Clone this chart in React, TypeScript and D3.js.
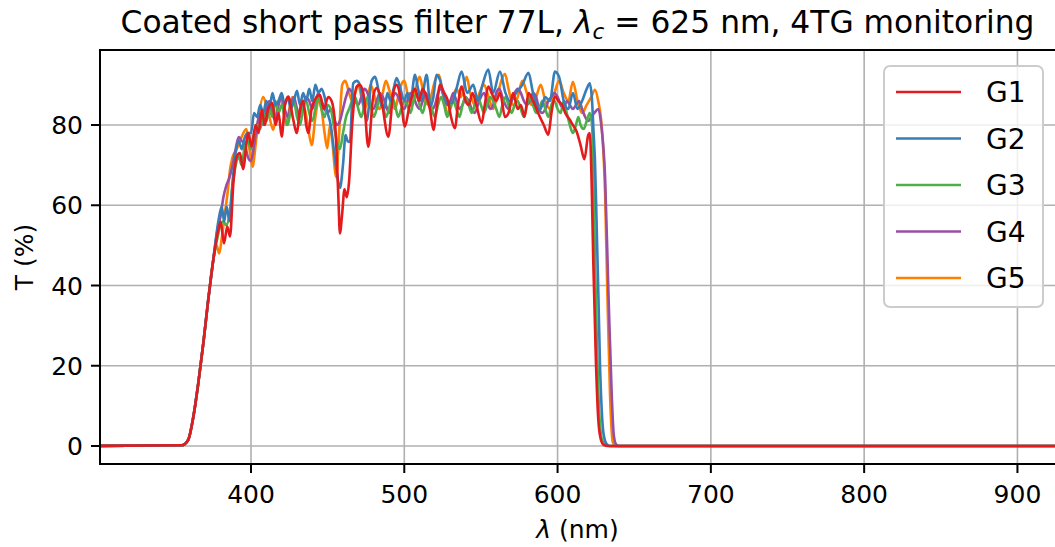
import React from "react";
import * as d3 from "d3";

type Pt = [number, number];

const seriesNames = ["G1", "G2", "G3", "G4", "G5"];
const seriesColors = ["#e41a1c", "#377eb8", "#4daf4a", "#984ea3", "#ff7f00"];
const xTicks = [400, 500, 600, 700, 800, 900];
const yTicks = [0, 20, 40, 60, 80];

const riseEdge: Pt[] = [
  [295, 0], [355, 0.2], [359, 1.5], [362.4, 7.3], [365.6, 15.6], [368.9, 25.6],
  [372.1, 36.4], [375.4, 46.4],
];
const stopTail: Pt[] = [[700, 0], [930, 0]];

const g1: Pt[] = [
  [378.7, 53.9], [380.2, 55.9], [382.4, 50.5], [384.5, 54.7], [386.3, 52.2], [388.5, 65.5], [390.7, 72.1],
  [392.8, 73], [394.8, 69], [398.2, 78], [400.4, 74.6], [403, 80], [405, 78], [407, 83.8], [409, 80],
  [411.3, 84.2], [414, 85.5], [416, 80], [418, 83], [420, 77.1], [422, 84.6], [424.3, 87.1], [427.6, 81.3],
  [429.8, 78], [432, 84], [434, 86], [436, 80], [437.4, 78], [439.5, 84], [441.7, 86.3], [445, 87.5],
  [447.5, 84], [450.4, 87], [452.6, 86], [455, 79.6], [457, 62], [458, 53], [459.5, 58], [461, 64],
  [462.5, 62], [464, 66], [466, 80], [469, 89.6], [471, 90], [473.5, 87.5], [476.5, 74.6], [479.8, 87.3],
  [482, 89.2], [485, 86.3], [489.6, 77.1], [492.8, 88], [495, 90], [497.5, 87], [500.4, 79.6], [503, 84],
  [507, 89], [509.5, 86], [512, 89], [514.5, 87], [516.8, 83.8], [519, 78.8], [521, 84], [523.3, 90],
  [526, 88], [528.5, 86], [530.5, 82], [533, 79.2], [535, 85], [537.4, 89.6], [540, 86], [542, 85],
  [544.5, 88], [547, 85], [550.5, 80.5], [552.5, 85], [554.8, 89.6], [557.5, 87.5], [560, 86], [562.5, 88],
  [565.7, 82], [568, 83], [571, 88], [574, 84], [576, 85], [578.5, 82], [581, 88], [584, 86], [588.5, 82],
  [591, 80], [594, 77.6], [596, 83], [598.3, 87.1], [600.5, 86], [603, 85], [605, 83], [608, 81.3],
  [610, 80], [612.4, 78.4], [615, 75], [617.5, 71.5], [620, 77.5], [621, 78], [622.2, 66], [623.3, 46],
  [625, 21.4], [626.5, 7], [628, 2], [630, 0.3], [633, 0],
];

const g2: Pt[] = [
  [378.7, 56], [380.9, 59.7], [382.5, 56], [384.1, 59.7], [386, 56], [388, 66], [390, 73], [392, 76],
  [394, 74], [396, 77], [398, 78], [400, 78], [402, 83], [404, 82], [406, 85], [408, 83], [410, 86],
  [412, 84], [414, 88], [416, 85], [418, 86], [420, 88], [422, 85], [424, 87], [426, 84], [428, 86],
  [430, 88.5], [432, 85], [434, 88], [436, 86], [438, 89], [440, 86], [442, 90], [444, 88], [446, 89],
  [448, 87], [450, 83], [452, 80], [454, 74], [456, 68], [458, 64.3], [460, 70], [461.7, 77.5], [463, 76],
  [464.5, 75.8], [466.7, 90.4], [469, 91], [471, 90], [473, 86], [475.5, 81], [478.7, 91], [481, 92],
  [483, 89], [485, 85], [487, 84], [489, 88], [491, 86], [493, 89], [495, 91.7], [497.5, 89], [500, 86],
  [502, 88], [504, 86], [507, 92.5], [509, 89], [511, 86], [514.6, 92.5], [517, 84.6], [519, 87],
  [521, 92.5], [523.5, 91], [526, 87], [528.5, 85.5], [531, 85.5], [534, 89], [537.4, 93.3], [541, 88],
  [545, 90], [548, 86], [551, 90], [554.8, 93.8], [558, 88], [562.4, 93.3], [566, 88], [569, 85.9],
  [573, 88], [577, 90], [581, 93], [584, 88], [588.5, 83.8], [592, 87], [595, 86], [598.3, 93.3],
  [601, 92], [604, 86], [607, 84], [610, 88], [613, 84], [616, 86], [619, 89], [621, 90.4], [622.5, 86],
  [623.5, 78], [624.4, 71], [625.5, 55], [626.6, 38], [627.7, 20], [628.8, 9], [630, 3], [632, 0.5], [634, 0],
];

const g3: Pt[] = [
  [378.7, 53], [380, 55], [382, 56], [384, 55], [386, 58], [388, 65], [390, 70], [392, 72], [394, 70],
  [396, 75], [398, 76], [400, 74], [402, 78], [404, 80], [406, 79], [408, 83], [410, 81], [412, 84],
  [414, 82], [416, 86], [418, 83], [420, 85], [422, 82], [424, 80], [426, 84], [428, 86], [430, 82],
  [432, 80], [434, 84], [436, 86], [438, 83], [440, 81], [442, 84], [444, 87], [446, 84], [448, 82],
  [450, 85], [452, 84], [454, 80], [456, 76], [458, 74], [460, 78], [462, 82], [464, 84], [466, 86],
  [468, 87], [470, 84], [472, 82], [474, 85], [476, 87], [478, 85], [480, 82], [482, 84], [484, 87],
  [486, 85], [488, 82], [490, 84], [492, 87], [494, 85], [496, 82], [498, 84], [500, 86], [502, 85],
  [504, 83], [506, 86], [508, 88], [510, 85], [512, 83], [514, 86], [516, 87], [518, 84], [520, 82],
  [522, 85], [524, 87], [526, 85], [528, 82], [530, 84], [532, 86], [534, 84], [536, 82], [538, 85],
  [540, 87], [542, 85], [544, 83], [546, 85], [548, 87], [550, 85], [552, 83], [554, 85], [556, 87],
  [558, 86], [560, 84], [562, 82], [564, 85], [566, 87], [568, 85], [570, 83], [572, 85], [574, 86],
  [576, 84], [578, 82], [580, 85], [582, 87], [584, 85], [586, 83], [588, 84], [590, 86], [592, 84],
  [594, 82], [596, 85], [598, 86], [600, 84], [602, 83], [604, 86], [606, 83], [608, 80], [610, 78],
  [612, 80], [613.5, 82], [615, 80], [617, 79], [619, 81], [621, 83], [622.5, 80], [623.5, 65],
  [624.5, 45], [625.5, 28], [626.5, 14], [627.5, 6], [629, 1.5], [631, 0.3], [634, 0],
];

const g4: Pt[] = [
  [378.7, 55], [380, 57], [382, 62], [384, 65], [386, 67], [388, 70], [390, 74], [392, 77], [394, 76],
  [396, 75], [398, 72], [400, 71], [402, 75], [404, 80], [406, 83], [408, 80], [410, 84], [412, 86],
  [414, 83], [416, 81], [418, 85], [420, 87], [422, 84], [424, 82], [426, 85], [428, 87], [430, 84],
  [432, 82], [434, 85], [436, 87], [438, 86], [440, 84], [442, 86], [444, 88], [446, 86], [448, 84],
  [450, 83], [452, 84], [454, 82], [456, 80], [458, 81], [460, 84], [462, 87], [464, 89], [466, 88],
  [468, 86], [470, 85], [472, 87], [474, 89], [476, 88], [478, 85], [480, 84], [482, 86], [484, 88],
  [486, 87], [488, 85], [490, 83], [492, 86], [494, 88], [496, 87], [498, 85], [500, 84], [502, 86],
  [504, 88], [506, 87], [508, 85], [510, 84], [512, 86], [514, 88], [516, 86], [518, 84], [520, 85],
  [522, 88], [524, 89], [526, 87], [528, 85], [530, 86], [532, 88], [534, 86], [536, 84], [538, 85],
  [540, 87], [542, 86], [544, 84], [546, 83], [548, 85], [550, 87], [552, 88], [554, 86], [556, 84],
  [558, 85], [560, 88], [562, 89], [564, 87], [566, 85], [568, 84], [570, 86], [572, 88], [574, 89],
  [576, 88], [578, 86], [580, 85], [582, 86], [584, 88], [586, 87], [588, 84], [590, 83], [592, 84],
  [594, 86], [596, 87], [598, 88], [600, 87], [602, 85], [604, 84], [606, 86], [608, 85], [610, 84],
  [612, 85], [614, 86], [616, 84], [618, 82], [620, 81], [622, 82], [624, 83], [626.6, 84], [628.5, 80],
  [631, 67], [633.2, 38], [635.3, 13], [636.6, 3], [638, 0.5], [640, 0],
];

const g5: Pt[] = [
  [377.5, 50], [379.3, 48], [381, 52], [383, 58], [385, 64], [386.3, 68.8], [388, 72], [390.7, 74],
  [392.8, 76], [395, 78], [397, 79], [399, 74], [401, 69.6], [403, 75], [405, 82], [408, 87], [410, 85],
  [412, 82], [414.5, 78.8], [417, 84], [419, 87], [421, 84], [423, 80], [425, 84], [427, 87], [429, 85],
  [431, 82], [433, 85], [435, 84], [437, 80], [439.6, 75], [442, 82], [444, 86], [446, 84], [448, 78],
  [449.8, 74.2], [451.5, 80], [453, 76], [455.6, 67], [457.5, 78], [459.5, 90], [461.5, 91], [464, 88],
  [466, 86], [468, 88], [470, 90], [472, 87], [474, 84], [476, 86], [478, 90], [480, 88], [482, 85],
  [484, 84], [486, 88], [488, 91], [490, 89], [492, 86], [494, 84], [496, 87], [498, 90], [500, 91],
  [502, 88], [504, 85], [506, 86], [508, 90], [510, 92], [512, 89], [514, 86], [516, 85], [518, 88],
  [520, 91], [522.6, 92.5], [525, 88], [528.6, 83], [531, 86], [534, 89], [537, 87], [540.7, 92],
  [543, 88], [546, 85], [549, 88], [552, 90], [555, 87], [558, 84], [561, 88], [565.7, 92.7], [568, 89],
  [571, 85], [574, 87], [577, 91], [580, 88], [583, 85], [586, 87], [589, 90], [592, 86], [595, 84],
  [598, 88], [601, 91], [604, 88], [607, 86], [610, 90.8], [613, 86], [616, 83], [619, 85], [622, 87],
  [624.4, 88.8], [626.5, 86], [628.8, 79.6], [631, 63], [632.5, 38], [634.2, 13], [636, 1], [638, 0],
];

const seriesData: Pt[][] = [g1, g2, g3, g4, g5];

const W = 1055;
const H = 547;
const left = 100;
const right = 1055;
const top = 50;
const bottom = 464;
const FONT = "'DejaVu Sans', sans-serif";

export default function App() {
  const x = d3.scaleLinear().domain([301.5, 924.5]).range([left, right]);
  const y = d3.scaleLinear().domain([-4.49, 98.7]).range([bottom, top]);
  const line = d3
    .line<Pt>()
    .x((d) => x(d[0]))
    .y((d) => y(d[1]))
    .curve(d3.curveMonotoneX);

  const full = seriesData.map((s) => [...riseEdge, ...s, ...stopTail]);
  const order = [4, 3, 2, 1, 0];

  return (
    <svg
      width={W}
      height={H}
      style={{ position: "absolute", left: 0, top: 0, background: "#fff" }}
      fontFamily={FONT}
    >
      <rect x={0} y={0} width={W} height={H} fill="#fff" />
      <defs>
        <clipPath id="plotClip">
          <rect x={left} y={top} width={right - left} height={bottom - top} />
        </clipPath>
      </defs>
      <g stroke="#b0b0b0" strokeWidth={1.6}>
        {xTicks.map((t) => (
          <line key={"gx" + t} x1={x(t)} x2={x(t)} y1={top} y2={bottom} />
        ))}
        {yTicks.map((t) => (
          <line key={"gy" + t} x1={left} x2={right} y1={y(t)} y2={y(t)} />
        ))}
      </g>
      <g clipPath="url(#plotClip)" fill="none" strokeWidth={2.6} strokeLinejoin="round" strokeLinecap="round">
        {order.map((i) => (
          <path key={seriesNames[i]} d={line(full[i]) || ""} stroke={seriesColors[i]} />
        ))}
      </g>
      <g stroke="#000" strokeWidth={2} fill="none">
        <line x1={left} x2={left} y1={top - 1} y2={bottom + 1} />
        <line x1={left - 1} x2={right} y1={bottom} y2={bottom} />
        <line x1={left - 1} x2={right} y1={top} y2={top} />
      </g>
      <g stroke="#000" strokeWidth={2}>
        {xTicks.map((t) => (
          <line key={"tx" + t} x1={x(t)} x2={x(t)} y1={bottom} y2={bottom + 9} />
        ))}
        {yTicks.map((t) => (
          <line key={"ty" + t} x1={left - 9} x2={left} y1={y(t)} y2={y(t)} />
        ))}
      </g>
      <g fontSize={25} fill="#000">
        {xTicks.map((t) => (
          <text key={"lx" + t} x={x(t)} y={503} textAnchor="middle">
            {t}
          </text>
        ))}
        {yTicks.map((t) => (
          <text key={"ly" + t} x={83} y={y(t)} dy="0.36em" textAnchor="end">
            {t}
          </text>
        ))}
      </g>
      <text x={(left + right) / 2} y={538} fontSize={25} textAnchor="middle">
        <tspan fontStyle="italic">λ</tspan> (nm)
      </text>
      <text transform={`translate(33, ${(top + bottom) / 2}) rotate(-90)`} fontSize={25} textAnchor="middle">
        T (%)
      </text>
      <text x={(left + right) / 2} y={33} fontSize={31.3} textAnchor="middle">
        Coated short pass filter 77L, <tspan fontStyle="italic">λ</tspan>
        <tspan fontStyle="italic" fontSize={21.5} dy={6}>c</tspan>
        <tspan dy={-6}> = 625 nm, 4TG monitoring</tspan>
      </text>
      <g>
        <rect x={884} y={66} width={159} height={241} rx={6} fill="#fff" fillOpacity={0.8} stroke="#cccccc" strokeWidth={2} />
        {seriesNames.map((n, i) => {
          const ly = 92 + i * 46.5;
          return (
            <g key={"lg" + n}>
              <line x1={896} x2={961} y1={ly} y2={ly} stroke={seriesColors[i]} strokeWidth={2.6} />
              <text x={986} y={ly} dy="0.36em" fontSize={28}>
                {n}
              </text>
            </g>
          );
        })}
      </g>
    </svg>
  );
}
